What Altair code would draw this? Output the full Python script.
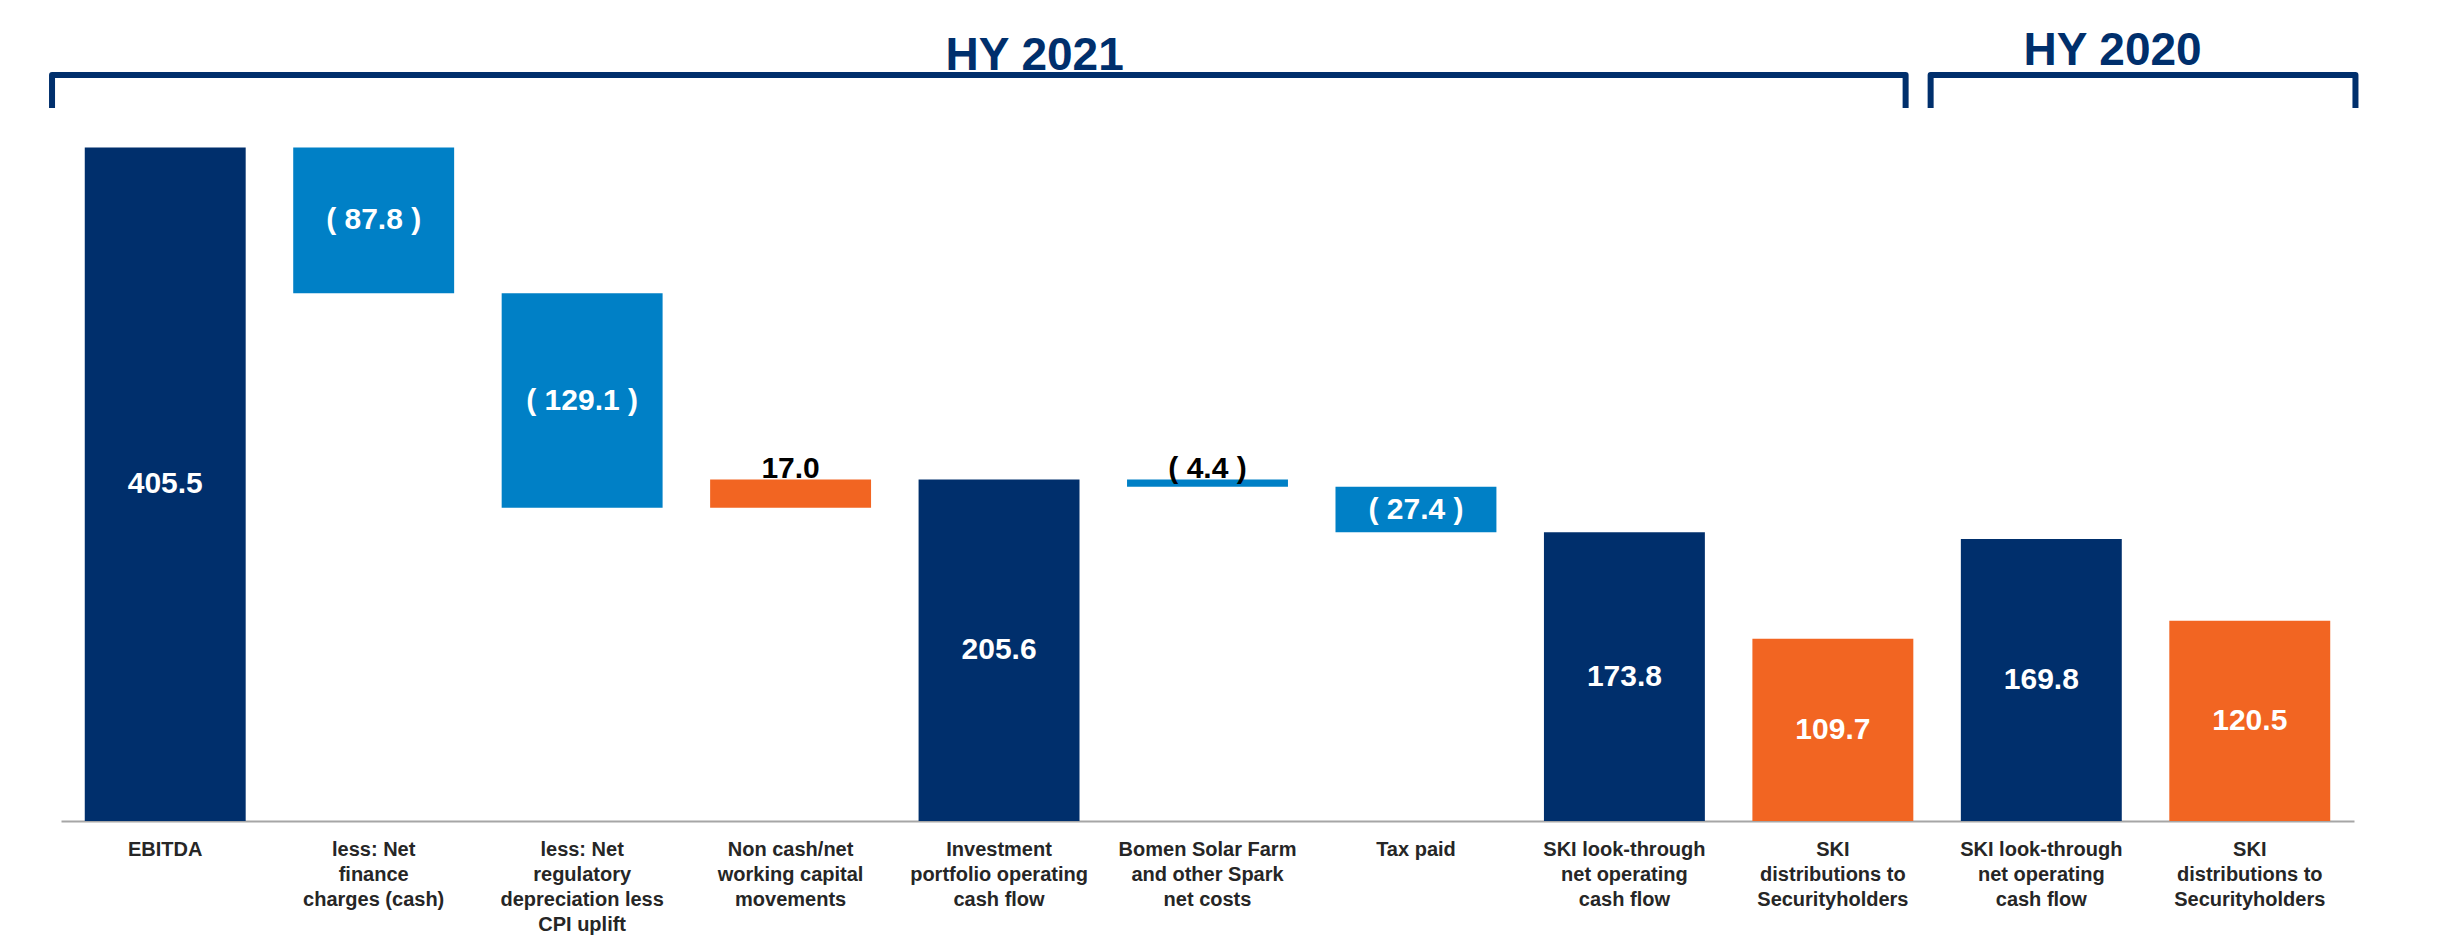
import json
import altair as alt
import pandas as pd

# ---------------- data ----------------
categories = [
    "EBITDA",
    "less: Net\nfinance\ncharges (cash)",
    "less: Net\nregulatory\ndepreciation less\nCPI uplift",
    "Non cash/net\nworking capital\nmovements",
    "Investment\nportfolio operating\ncash flow",
    "Bomen Solar Farm\nand other Spark\nnet costs",
    "Tax paid",
    "SKI look-through\nnet operating\ncash flow",
    "SKI\ndistributions to\nSecurityholders",
    "SKI look-through\nnet operating\ncash flow",
    "SKI\ndistributions to\nSecurityholders",
]
values = [405.5, -87.8, -129.1, 17.0, 205.6, -4.4, -27.4, 173.8, 109.7, 169.8, 120.5]
kinds = ["total", "delta", "delta", "delta", "total", "delta", "delta",
         "total", "distribution", "total", "distribution"]
periods = ["HY 2021", "HY 2020"]

# ---------------- styling ----------------
NAVY = "#002F6C"
BLUE = "#0080C6"
ORANGE = "#F26522"
FONT = "Liberation Sans"
Y_DOMAIN = [0, 486.5]

# ---------------- waterfall table ----------------
rows = []
cum = 0.0
for i, (cat, v, k) in enumerate(zip(categories, values, kinds)):
    if k == "delta":
        start, end = cum, cum + v
        cum = end
        ckey = "decrease" if v < 0 else "increase"
    else:
        start, end = 0.0, v
        if k == "total":
            cum = v
        ckey = k
    label = f"( {abs(v):.1f} )" if v < 0 else f"{v:.1f}"
    rows.append(dict(idx=i, start=start, end=end, mid=(start + end) / 2,
                     top=max(start, end), colorkey=ckey, label=label,
                     inside=abs(v) >= 20))
df = pd.DataFrame(rows)

label_lines = [c.split("\n") for c in categories]
label_expr = f"{json.dumps(label_lines)}[toNumber(datum.value)]"

yscale = alt.Scale(domain=Y_DOMAIN, nice=False, zero=True)
xband = alt.X(
    "idx:O",
    scale=alt.Scale(paddingInner=0.228, paddingOuter=0.114),
    axis=alt.Axis(
        title=None, labelAngle=0, labelExpr=label_expr, labelFont=FONT,
        labelFontWeight="bold", labelFontSize=20, labelColor="#262626",
        labelLineHeight=25, labelPadding=18, ticks=False, tickSize=0,
        domainColor="#A6A6A6", domainWidth=2, labelBaseline="top",
        grid=False, labelLimit=300, labelOverlap=False,
    ),
)

bars = alt.Chart(df).mark_bar().encode(
    x=xband,
    y=alt.Y("start:Q", scale=yscale, axis=None),
    y2="end:Q",
    color=alt.Color(
        "colorkey:N",
        scale=alt.Scale(domain=["total", "decrease", "increase", "distribution"],
                        range=[NAVY, BLUE, ORANGE, ORANGE]),
        legend=None,
    ),
)

inside_labels = alt.Chart(df).transform_filter("datum.inside").mark_text(
    font=FONT, fontSize=30, fontWeight="bold", color="white",
    baseline="middle", align="center",
).encode(x=xband, y=alt.Y("mid:Q", scale=yscale, axis=None), text="label:N")

outside_labels = alt.Chart(df).transform_filter("!datum.inside").mark_text(
    font=FONT, fontSize=30, fontWeight="bold", color="black",
    baseline="alphabetic", align="center", dy=-2,
).encode(x=xband, y=alt.Y("top:Q", scale=yscale, axis=None), text="label:N")

bar_group = alt.layer(bars, inside_labels, outside_labels)

# ---------------- period brackets (annotation geometry) ----------------
bracket_edges = [(-0.043, 8.849), (8.969, 11.007)]   # in category-slot units
bracket_top, bracket_bottom = 449.2, 429.3
title_pos = [(4.671, 452.2), (9.842, 455.2)]

brows = []
for p, (l, r) in zip(periods, bracket_edges):
    for o, (u, y) in enumerate([(l, bracket_bottom), (l, bracket_top),
                                (r, bracket_top), (r, bracket_bottom)]):
        brows.append(dict(period=p, u=u, y=y, o=o))
bdf = pd.DataFrame(brows)
tdf = pd.DataFrame([dict(period=p, u=u, y=y) for p, (u, y) in zip(periods, title_pos)])

uscale = alt.Scale(domain=[0, len(categories)], nice=False, zero=False)

brackets = alt.Chart(bdf).mark_line(
    color=NAVY, strokeWidth=6, strokeJoin="round", strokeCap="butt"
).encode(
    x=alt.X("u:Q", scale=uscale, axis=None),
    y=alt.Y("y:Q", scale=yscale, axis=None),
    detail="period:N",
    order="o:Q",
)

titles = alt.Chart(tdf).mark_text(
    font=FONT, fontSize=46, fontWeight="bold", color=NAVY,
    baseline="alphabetic", align="center",
).encode(
    x=alt.X("u:Q", scale=uscale, axis=None),
    y=alt.Y("y:Q", scale=yscale, axis=None),
    text="period:N",
)

annot = alt.layer(brackets, titles)

chart = alt.layer(bar_group, annot).resolve_scale(x="independent").properties(
    width=2293, height=808,
    padding={"left": 41, "top": 5, "right": 5, "bottom": 5},
    background="white",
).configure_view(strokeWidth=0)

chart.save("out.html", embed_options={"renderer": "svg", "actions": False})
